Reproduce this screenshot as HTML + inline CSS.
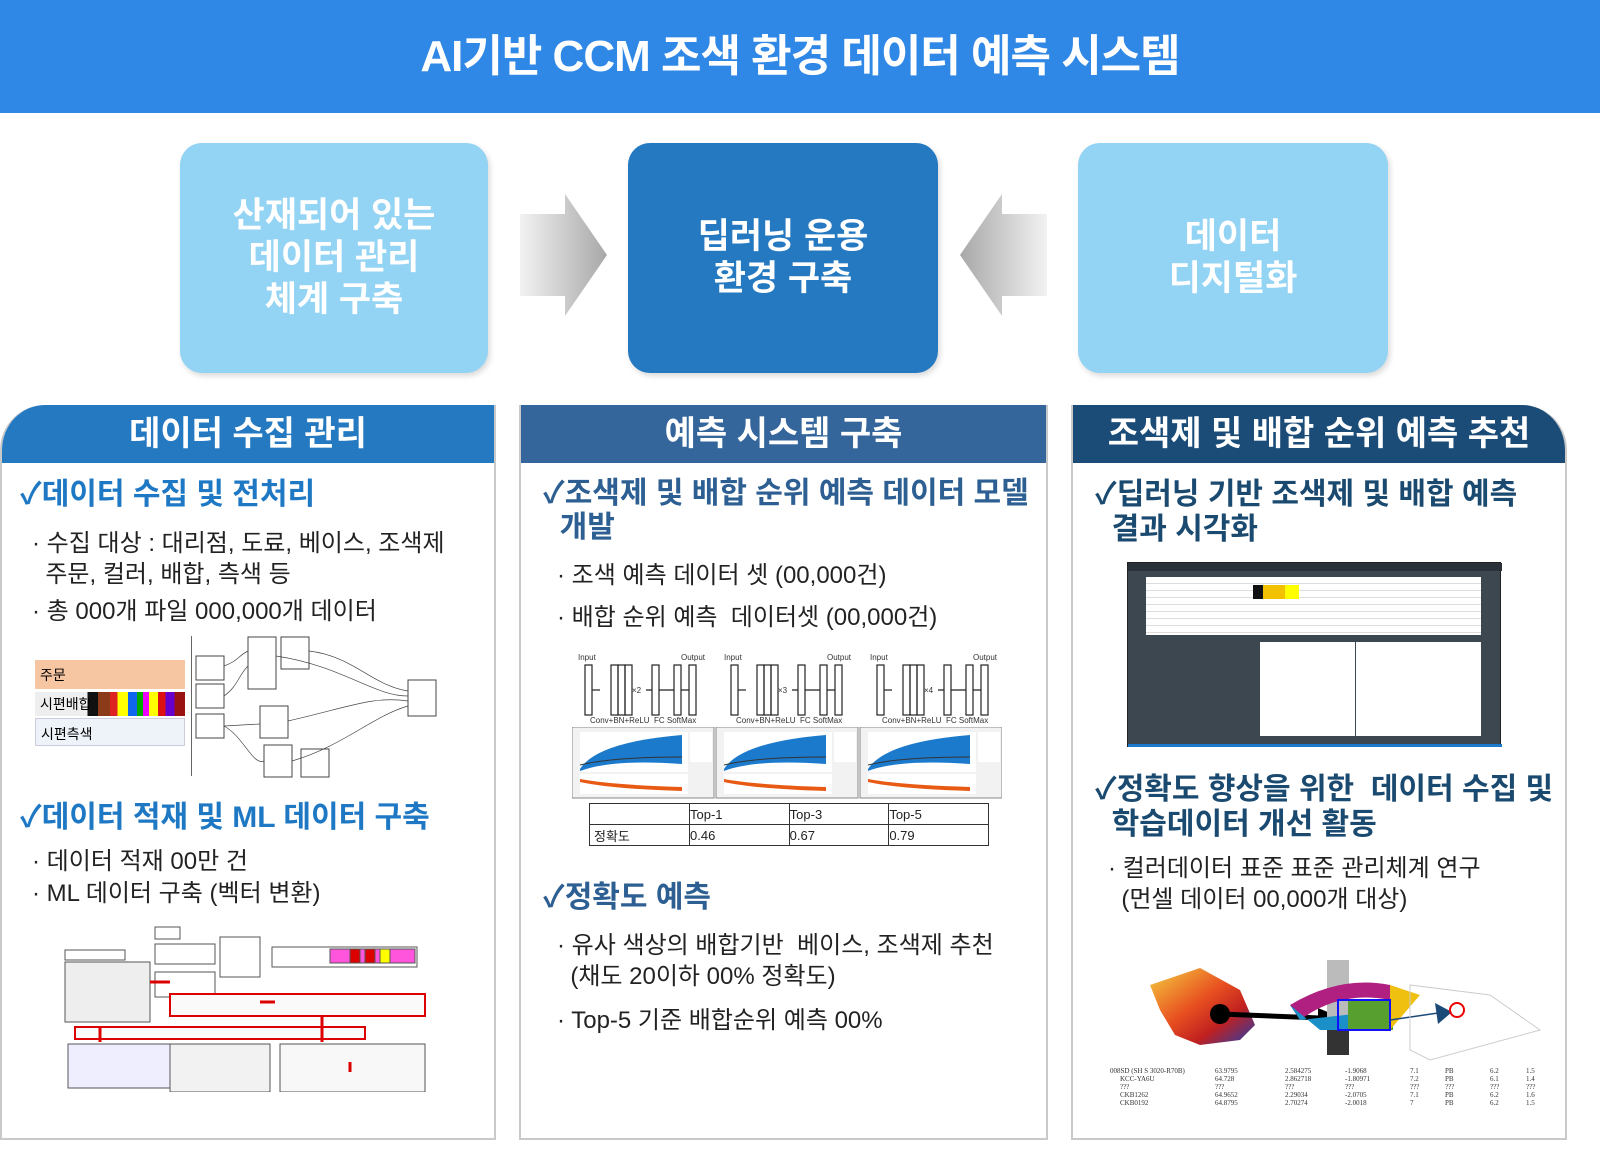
<!DOCTYPE html>
<html><head><meta charset="utf-8"><style>
*{margin:0;padding:0;box-sizing:border-box}
body{width:1600px;height:1165px;background:#fff;position:relative;overflow:hidden;font-family:"Liberation Sans","Noto Sans CJK KR",sans-serif}
.a{position:absolute}
.hdr{left:0;top:0;width:1600px;height:113px;background:#2f87e6;color:#fff;font-size:44px;font-weight:bold;text-align:center;line-height:113px;letter-spacing:-1px}
.box{border-radius:22px;color:#fff;font-weight:bold;font-size:35px;line-height:42px;display:flex;align-items:center;justify-content:center;text-align:center;box-shadow:2px 3px 6px rgba(0,0,0,.15)}
.panel{border:2px solid #c9c9c9;border-top:none}
.ph{color:#fff;font-size:34px;font-weight:bold;text-align:center;line-height:58px}
.h{font-size:30px;font-weight:bold;line-height:36px}
.t{font-size:24px;color:#222;line-height:31px}
</style></head><body>
<div class="a hdr">AI기반 CCM 조색 환경 데이터 예측 시스템</div>

<div class="a box" style="left:180px;top:143px;width:308px;height:230px;background:#93d3f4">산재되어 있는<br>데이터 관리<br>체계 구축</div>
<div class="a box" style="left:628px;top:143px;width:310px;height:230px;background:#2479c1">딥러닝 운용<br>환경 구축</div>
<div class="a box" style="left:1078px;top:143px;width:310px;height:230px;background:#93d3f4">데이터<br>디지털화</div>

<svg class="a" style="left:515px;top:190px" width="95" height="130"><defs><linearGradient id="g1" x1="0" x2="1"><stop offset="0" stop-color="#f2f2f2"/><stop offset="1" stop-color="#a8a8a8"/></linearGradient><linearGradient id="g2" x1="1" x2="0"><stop offset="0" stop-color="#f2f2f2"/><stop offset="1" stop-color="#a8a8a8"/></linearGradient></defs><polygon points="5,24 50,24 50,4 92,65 50,126 50,106 5,106" fill="url(#g1)"/></svg>
<svg class="a" style="left:957px;top:190px" width="95" height="130"><polygon points="90,24 45,24 45,4 3,65 45,126 45,106 90,106" fill="url(#g2)"/></svg>

<div class="a panel" style="left:0;top:405px;width:496px;height:735px;border-radius:45px 0 0 0;overflow:hidden">
<div class="ph" style="background:#2479c1">데이터 수집 관리</div></div>
<div class="a panel" style="left:519px;top:405px;width:529px;height:735px">
<div class="ph" style="background:#35669b">예측 시스템 구축</div></div>
<div class="a panel" style="left:1071px;top:405px;width:496px;height:735px;border-radius:0 45px 0 0;overflow:hidden">
<div class="ph" style="background:#1b4c78">조색제 및 배합 순위 예측 추천</div></div>

<div class="a h" style="left:20px;top:477px;color:#1f78c3">✓데이터 수집 및 전처리</div>
<div class="a t" style="left:32px;top:528px">· 수집 대상 : 대리점, 도료, 베이스, 조색제<br>&nbsp;&nbsp;주문, 컬러, 배합, 측색 등</div>
<div class="a t" style="left:32px;top:596px">· 총 000개 파일 000,000개 데이터</div>
<div class="a" style="left:35px;top:660px;width:150px;height:29px;background:#f6c6a3"><span style="position:absolute;left:5px;top:5px;font-size:14px">주문</span></div>
<div class="a" style="left:35px;top:692px;width:150px;height:24px;background:linear-gradient(90deg,#eee 0 35%,#111 35% 42%,#8b3a1a 42% 50%,#d22 50% 55%,#ff0 55% 62%,#16e 62% 68%,#0a0 68% 72%,#e0f 72% 76%,#ff0 76% 82%,#d11 82% 87%,#60c 87% 93%,#911 93%)"><span style="position:absolute;left:5px;top:2px;font-size:14px">시편배합</span></div>
<div class="a" style="left:35px;top:718px;width:150px;height:28px;background:#eef3fa;border:1px solid #ccd"><span style="position:absolute;left:5px;top:5px;font-size:14px">시편측색</span></div>
<div class="a" style="left:191px;top:636px;width:1px;height:140px;background:#666"></div>
<svg class="a" style="left:193px;top:636px" width="270" height="145" stroke="#444" fill="#fff" stroke-width="1">
<rect x="3" y="20" width="28" height="24"/><rect x="3" y="48" width="28" height="24"/><rect x="3" y="78" width="28" height="24"/>
<rect x="55" y="1" width="28" height="52"/><rect x="88" y="1" width="28" height="32"/><rect x="67" y="70" width="28" height="32"/>
<rect x="215" y="44" width="28" height="36"/><rect x="71" y="109" width="28" height="32"/><rect x="108" y="113" width="28" height="28"/>
<path d="M31,30 C45,25 45,20 55,15 M31,60 C45,50 45,40 55,30 M31,90 L67,88 M83,20 C150,30 180,60 215,60 M95,85 C160,70 180,60 215,65 M31,90 C50,100 60,130 71,125 M116,15 C160,20 180,50 215,55 M99,125 C150,110 180,80 215,70" fill="none" stroke-width=".7"/>
</svg>

<div class="a h" style="left:20px;top:800px;color:#1f78c3">✓데이터 적재 및 ML 데이터 구축</div>
<div class="a t" style="left:32px;top:846px">· 데이터 적재 00만 건</div>
<div class="a t" style="left:32px;top:878px">· ML 데이터 구축 (벡터 변환)</div>
<svg class="a" style="left:60px;top:922px" width="370" height="170" stroke="#555" fill="#fff" stroke-width="1">
<rect x="5" y="28" width="60" height="10"/><rect x="5" y="40" width="85" height="60" fill="#eee"/><rect x="95" y="5" width="25" height="12"/><rect x="95" y="22" width="60" height="20"/><rect x="160" y="15" width="40" height="40"/><rect x="95" y="50" width="60" height="25"/>
<rect x="212" y="25" width="145" height="20"/>
<rect x="270" y="27" width="85" height="14" fill="#f5d"/>
<path d="M290,27 h10 v14 h-10z M305,27h10v14h-10z" fill="#d00"/><path d="M320,27h10v14h-10z" fill="#ff0"/>
<rect x="110" y="72" width="255" height="22" stroke="#d00" stroke-width="2" fill="#fafafa"/>
<rect x="15" y="105" width="290" height="12" stroke="#d00" stroke-width="2" fill="#fafafa"/>
<rect x="8" y="122" width="190" height="44" fill="#eef"/><rect x="220" y="122" width="145" height="48" fill="#f8f8f8"/>
<rect x="110" y="122" width="100" height="48" fill="#f2f2f2"/>
<path d="M90,60 L110,60 M200,80 L215,80" stroke="#d00" stroke-width="3"/>
<path d="M40,105 v15" stroke="#d00" stroke-width="3"/>
<path d="M262,95 v25 M290,140 v10" stroke="#d00" stroke-width="3"/>
</svg>

<div class="a h" style="left:543px;top:477px;color:#2d5f93;line-height:34px">✓조색제 및 배합 순위 예측 데이터 모델<br>&nbsp;&nbsp;개발</div>
<div class="a t" style="left:557px;top:560px">· 조색 예측 데이터 셋 (00,000건)</div>
<div class="a t" style="left:557px;top:602px">· 배합 순위 예측 &nbsp;데이터셋 (00,000건)</div>
<svg class="a" style="left:570px;top:650px" width="430" height="75" font-family="Liberation Sans" font-size="8" fill="#333">
<g id="n"><text x="8" y="10">Input</text><text x="111" y="10">Output</text>
<g fill="none" stroke="#222" stroke-width="1.2"><rect x="15" y="15" width="7" height="50"/><path d="M22,40h8"/><rect x="41" y="15" width="7" height="50"/><rect x="48" y="15" width="7" height="50"/><rect x="55" y="15" width="7" height="50"/><rect x="82" y="15" width="7" height="50"/><rect x="104" y="15" width="7" height="50"/><rect x="119" y="15" width="7" height="50"/><path d="M76,40h6 M89,40h15 M111,40h8"/></g>
<text x="20" y="73">Conv+BN+ReLU</text><text x="84" y="73">FC SoftMax</text></g>
<text x="62" y="43">×2</text>
<use href="#n" x="146"/><text x="208" y="43">×3</text>
<use href="#n" x="292"/><text x="354" y="43">×4</text>
</svg>
<svg class="a" style="left:572px;top:727px" width="430" height="72">
<defs><g id="c"><rect width="142" height="71" fill="#f2f2f2" stroke="#888"/><rect x="8" y="5" width="108" height="40" fill="#fff"/><path d="M8,42 Q25,15 110,8 L110,37 Q40,32 8,44z" fill="#1c7acc"/><path d="M8,38 Q40,30 110,30" stroke="#333" fill="none"/><rect x="8" y="47" width="108" height="20" fill="#fff"/><path d="M8,55 Q40,62 110,64 L110,60 Q40,58 8,52z" fill="#e85a14"/><rect x="118" y="5" width="22" height="30" fill="#fff"/></g></defs>
<use href="#c"/><use href="#c" x="144"/><use href="#c" x="288"/></svg>
<table class="a" style="left:589px;top:803px;width:400px;border-collapse:collapse;font-size:13px;color:#222">
<tr style="height:21px"><td style="border:1px solid #333;width:100px"></td><td style="border:1px solid #333">Top-1</td><td style="border:1px solid #333">Top-3</td><td style="border:1px solid #333">Top-5</td></tr>
<tr style="height:21px"><td style="border:1px solid #333;padding-left:4px">정확도</td><td style="border:1px solid #333">0.46</td><td style="border:1px solid #333">0.67</td><td style="border:1px solid #333">0.79</td></tr></table>
<div class="a h" style="left:543px;top:880px;color:#2d5f93">✓정확도 예측</div>
<div class="a t" style="left:557px;top:930px">· 유사 색상의 배합기반 &nbsp;베이스, 조색제 추천<br>&nbsp;&nbsp;(채도 20이하 00% 정확도)</div>
<div class="a t" style="left:557px;top:1005px">· Top-5 기준 배합순위 예측 00%</div>

<div class="a h" style="left:1095px;top:477px;color:#1b4a70;line-height:35px">✓딥러닝 기반 조색제 및 배합 예측<br>&nbsp;&nbsp;결과 시각화</div>
<div class="a" style="left:1127px;top:562px;width:374px;height:185px;background:#3d4750;border:1px solid #222">
<div class="a" style="left:0;top:0;width:374px;height:8px;background:#2a3138"></div>
<div class="a" style="left:18px;top:14px;width:335px;height:58px;background:#fff;background-image:repeating-linear-gradient(180deg,#fff 0 6px,#ddd 6px 7px)"></div>
<div class="a" style="left:135px;top:22px;width:22px;height:14px;background:#f2c200"></div>
<div class="a" style="left:157px;top:22px;width:14px;height:14px;background:#ff0"></div>
<div class="a" style="left:125px;top:22px;width:10px;height:14px;background:#111"></div>
<div class="a" style="left:132px;top:79px;width:95px;height:94px;background:#fff"></div>
<div class="a" style="left:228px;top:79px;width:125px;height:94px;background:#fff"></div>
<div class="a" style="left:0;top:181px;width:374px;height:3px;background:#1c7acc"></div>
</div>
<div class="a h" style="left:1095px;top:772px;color:#1b4a70;line-height:35px">✓정확도 향상을 위한 &nbsp;데이터 수집 및<br>&nbsp;&nbsp;학습데이터 개선 활동</div>
<div class="a t" style="left:1108px;top:853px">· 컬러데이터 표준 표준 관리체계 연구<br>&nbsp;&nbsp;(먼셀 데이터 00,000개 대상)</div>
<svg class="a" style="left:1090px;top:930px" width="460" height="190" font-family="Liberation Serif" font-size="7" fill="#333">
<defs><linearGradient id="sp" x1="0" x2="1" y1="0" y2="1"><stop offset="0" stop-color="#f5d040"/><stop offset=".45" stop-color="#e85020"/><stop offset=".7" stop-color="#c02020"/><stop offset="1" stop-color="#2040b0"/></linearGradient></defs>
<path d="M60,55 L110,38 L150,60 L165,95 L150,110 L110,115 L85,105 L70,80z" fill="url(#sp)"/>
<circle cx="130" cy="84" r="10" fill="#000"/><path d="M130,84 L230,88" stroke="#000" stroke-width="5"/><polygon points="228,78 252,88 228,98" fill="#000"/>
<rect x="237" y="30" width="22" height="95" fill="#bbb"/><rect x="237" y="95" width="22" height="30" fill="#333"/>
<path d="M200,75 Q250,45 300,55 L300,70 Q250,60 210,90z" fill="#b02080"/><path d="M200,75 L230,100 L300,100 L300,80 L210,90z" fill="#1b90c8"/>
<rect x="258" y="70" width="45" height="30" fill="#57a030"/><path d="M300,55 L330,65 L300,100z" fill="#f0c010"/>
<rect x="248" y="70" width="52" height="30" fill="none" stroke="#11f" stroke-width="2"/>
<path d="M300,90 L355,82" stroke="#1b4a78" stroke-width="1.5"/><polygon points="345,73 362,82 348,94" fill="#1b4a78"/>
<circle cx="367" cy="80" r="7" fill="none" stroke="#e00" stroke-width="2"/>
<path d="M320,55 L320,120 L340,130 L450,100 L400,65z" fill="none" stroke="#ccc"/>
<text x="20" y="143">008SD (SH S 3020-R70B)</text><text x="125" y="143">63.9795</text><text x="195" y="143">2.584275</text><text x="255" y="143">-1.9068</text><text x="320" y="143">7.1</text><text x="355" y="143">PB</text><text x="400" y="143">6.2</text><text x="436" y="143">1.5</text>
<text x="30" y="151">KCC-YA6U</text><text x="125" y="151">64.728</text><text x="195" y="151">2.862718</text><text x="255" y="151">-1.80971</text><text x="320" y="151">7.2</text><text x="355" y="151">PB</text><text x="400" y="151">6.1</text><text x="436" y="151">1.4</text>
<text x="30" y="159">???</text><text x="125" y="159">???</text><text x="195" y="159">???</text><text x="255" y="159">???</text><text x="320" y="159">???</text><text x="355" y="159">???</text><text x="400" y="159">???</text><text x="436" y="159">???</text>
<text x="30" y="167">CKB1262</text><text x="125" y="167">64.9652</text><text x="195" y="167">2.29034</text><text x="255" y="167">-2.0705</text><text x="320" y="167">7.1</text><text x="355" y="167">PB</text><text x="400" y="167">6.2</text><text x="436" y="167">1.6</text>
<text x="30" y="175">CKB0192</text><text x="125" y="175">64.8795</text><text x="195" y="175">2.70274</text><text x="255" y="175">-2.0018</text><text x="320" y="175">7</text><text x="355" y="175">PB</text><text x="400" y="175">6.2</text><text x="436" y="175">1.5</text>
</svg>
</body></html>
